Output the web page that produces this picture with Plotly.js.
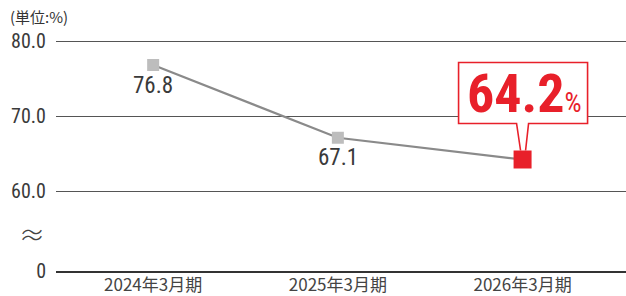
<!DOCTYPE html>
<html><head><meta charset="utf-8">
<script src="https://cdn.plot.ly/plotly-3.0.1.min.js"></script>
<style>html,body{margin:0;padding:0;background:#fff}</style>
</head><body><div id="chart" style="width:626px;height:296px"></div>
<script>
const categories = ["2024年3月期", "2025年3月期", "2026年3月期"];
const values = [76.8, 67.1, 64.2];
const valueLabels = ["76.8", "67.1", "64.2"];
const yTickVals = [80, 70, 60];
const yTickText = ["80.0", "70.0", "60.0"];
const zeroLabel = "0";
const unitLabel = "(単位:%)";

// axis break: real 0 is drawn at a compressed position below 60
const pxPerUnit = 7.5;
const zeroPos = 60 - 80 / pxPerUnit;   // fake position for 0
const breakPos = 54.4;

const condensed = '"Liberation Sans Narrow", "Roboto Condensed", "Arial Narrow", Roboto, sans-serif';
const jp = '"Noto Sans CJK JP", sans-serif';

const xIdx = categories.map((c, i) => i);
const last = values.length - 1;

const traces = [
  {
    x: xIdx.slice(0, last + 1), y: values, type: 'scatter', mode: 'lines',
    line: {color: '#8a8a8a', width: 2.2}, hoverinfo: 'skip', showlegend: false
  },
  {
    x: xIdx.slice(0, last), y: values.slice(0, last), type: 'scatter', mode: 'markers',
    marker: {symbol: 'square', size: 12, color: '#bdbdbd'}, showlegend: false
  },
  {
    x: [xIdx[last]], y: [values[last]], type: 'scatter', mode: 'markers',
    marker: {symbol: 'square', size: 18, color: '#e8202a'}, showlegend: false
  }
];

const annotations = [];
for (let i = 0; i < last; i++) {
  annotations.push({
    x: xIdx[i], y: values[i], xref: 'x', yref: 'y', text: valueLabels[i],
    showarrow: false, yshift: -20, font: {family: condensed, size: 23, color: '#3a3a3a'}
  });
}
annotations.push({
  x: xIdx[last], y: values[last], xref: 'x', yref: 'y',
  text: '<b>' + valueLabels[last] + '</b><span style="font-size:27px">%</span>',
  showarrow: false, yshift: 66, xshift: 2,
  font: {family: condensed, size: 54, color: '#e8202a'}
});
annotations.push({
  x: 0, xref: 'paper', xanchor: 'left', y: 1, yref: 'paper', yanchor: 'bottom',
  yshift: -9, xshift: -48,
  text: unitLabel, showarrow: false, font: {family: jp, size: 15, color: '#333'}
});
annotations.push({
  x: 0, xref: 'paper', xanchor: 'right', xshift: -9, y: breakPos, yref: 'y',
  text: '≈', showarrow: false, font: {family: '"Noto Sans CJK JP"', size: 26, color: '#444', weight: 300}
});

const shapes = [{
  type: 'path', xref: 'x', yref: 'y', xsizemode: 'pixel', ysizemode: 'pixel',
  xanchor: xIdx[last], yanchor: values[last],
  path: 'M -2 9 L -6 36 L -64 36 L -64 97 L 65 97 L 65 36 L 6 36 L 3 9',
  line: {color: '#e8202a', width: 1.6}, fillcolor: 'rgba(0,0,0,0)', layer: 'above'
}, {
  type: 'path', xref: 'x', yref: 'y', xsizemode: 'pixel', ysizemode: 'pixel',
  xanchor: xIdx[last], yanchor: values[last],
  path: 'M -64 36 L -64 97 L 65 97 L 65 36 Z',
  line: {width: 0}, fillcolor: '#ffffff', layer: 'between'
}];

const layout = {
  width: 626, height: 296,
  margin: {l: 56, r: 0, t: 20, b: 25},
  paper_bgcolor: '#fff', plot_bgcolor: '#fff',
  xaxis: {
    range: [-0.526, 2.56], tickvals: xIdx, ticktext: categories,
    showgrid: false, zeroline: false, showline: true, linecolor: '#333', linewidth: 2,
    ticks: '', ticklabelstandoff: -2,
    tickfont: {family: jp, size: 17, color: '#444'}, fixedrange: true
  },
  yaxis: {
    range: [zeroPos, zeroPos + 251 / pxPerUnit],
    tickvals: yTickVals.concat([zeroPos]), ticktext: yTickText.concat([zeroLabel]),
    showgrid: true, gridcolor: '#555', gridwidth: 1, zeroline: false, showline: false,
    ticks: '', ticklabelstandoff: 9,
    tickfont: {family: condensed, size: 20, color: '#3a3a3a'}, fixedrange: true
  },
  annotations: annotations, shapes: shapes
};

Plotly.newPlot('chart', traces, layout, {displayModeBar: false, staticPlot: true});
</script></body></html>
